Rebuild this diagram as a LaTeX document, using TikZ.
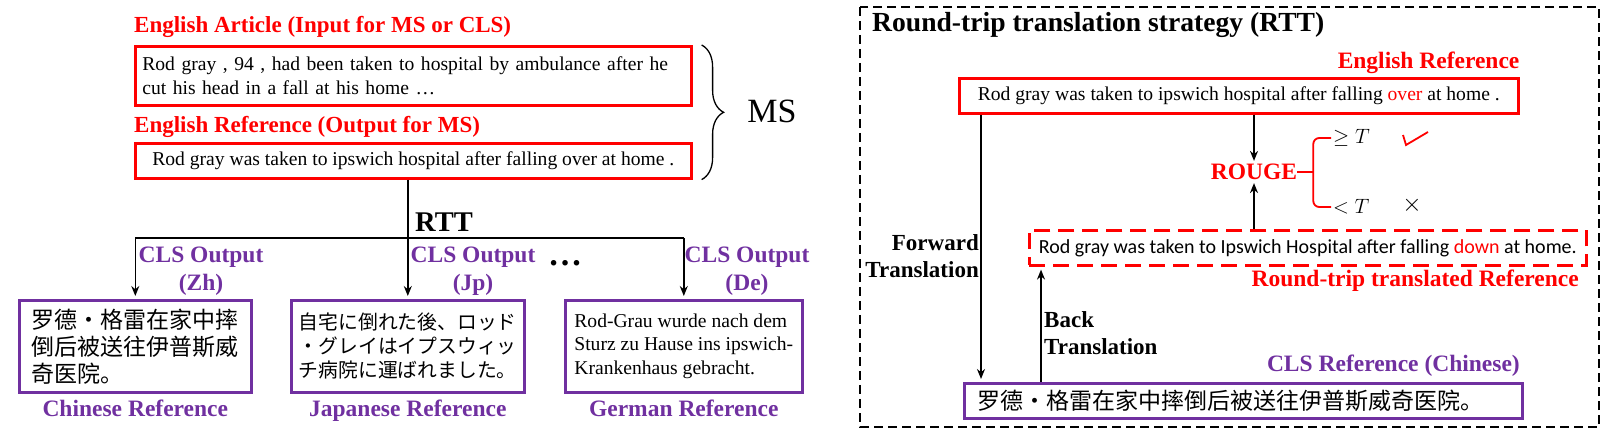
\documentclass[tikz,border=0pt]{standalone}
\usepackage{fontspec}
\setmainfont{Liberation Serif}
\newfontfamily\zhfont{Noto Sans CJK SC}
\newfontfamily\jpfont{Noto Sans CJK JP}
\newfontfamily\calfont{Carlito}
\usepackage{tikz}
\usetikzlibrary{arrows.meta,positioning,calc,decorations.pathreplacing}
\usepackage{xcolor}
\definecolor{msred}{RGB}{255,0,0}
\definecolor{clspurple}{RGB}{112,48,160}
\newcommand{\setfs}[2]{\fontsize{#1}{#2}\selectfont}
\tikzstyle{arrow} = [line width=1.5pt,->,>={Stealth[length=10pt,width=8pt]},shorten >=3pt]
\tikzstyle{link} = [line width=1.5pt]
\tikzstyle{redbox} = [draw=msred, line width=2.6pt, inner xsep=7pt, inner ysep=2pt, font=\setfs{19.6}{24}]
\tikzstyle{purplebox} = [draw=clspurple, line width=2.6pt, inner sep=5pt, minimum height=92pt]
\tikzstyle{redlabel} = [text=msred, font=\bfseries\setfs{23.5}{28}, inner sep=0pt]
\tikzstyle{purplelabel} = [text=clspurple, font=\bfseries\setfs{23.5}{28}, inner sep=0pt, align=center]
\tikzstyle{blacklabel} = [font=\bfseries\setfs{23}{27}, inner sep=0pt]

\begin{document}
\begin{tikzpicture}[x=1pt,y=-1pt]
\useasboundingbox (0,0) rectangle (1614,435);

% MS input and output
\node[redlabel, font=\bfseries\setfs{23}{28}, anchor=west] (artlabel) at (134,27) {English Article (Input for MS or CLS)};
\node[redbox, anchor=north west, minimum width=556pt, minimum height=59pt, text width=542pt, align=left] (article) at (134,45) {Rod gray , 94 , had been taken to hospital by ambulance after he\\cut his head in a fall at his home \ldots};
\node[redlabel, font=\bfseries\setfs{23}{28}, anchor=west] (reflabel) at (134,127) {English Reference (Output for MS)};
\node[redbox, anchor=north west, minimum width=556pt, minimum height=35pt] (msref) at (134,142) {Rod gray was taken to ipswich hospital after falling over at home .};

% MS brace
\draw[decorate, decoration={brace, amplitude=22pt}, line width=1.3pt] ($(article.north east)+(9pt,0)$) -- ($(msref.south east)+(9pt,0)$);
\node[font=\setfs{34}{40}] (ms) at (772,111) {MS};

% CLS references
\node[purplebox, anchor=north west, minimum width=232pt, align=left, font=\zhfont\setfs{23}{27}] (zhbox) at (18,299) {罗德·格雷在家中摔\\倒后被送往伊普斯威\\奇医院。};
\node[purplebox, anchor=north west, minimum width=233pt, align=left, font=\jpfont\setfs{19.8}{24}] (jpbox) at (290,299) {自宅に倒れた後、ロッド\\・グレイはイプスウィッ\\チ病院に運ばれました。};
\node[purplebox, anchor=north west, minimum width=237pt, align=left, font=\setfs{19.6}{23.5}] (debox) at (564,299) {Rod-Grau wurde nach dem\\Sturz zu Hause ins ipswich-\\Krankenhaus gebracht.};

\node[purplelabel, below=6pt of zhbox] (zhname) {Chinese Reference};
\node[purplelabel, below=6pt of jpbox] (jpname) {Japanese Reference};
\node[purplelabel, below=6pt of debox] (dename) {German Reference};

% RTT split
\coordinate (rttsplit) at (407,238);
\draw[arrow] (jpbox.north |- msref.south) -- (jpbox.north);
\draw[link] (rttsplit -| zhbox.north) -- (rttsplit -| debox.north);
\draw[arrow] (rttsplit -| zhbox.north) -- (zhbox.north);
\draw[arrow] (rttsplit -| debox.north) -- (debox.north);
\node[font=\bfseries\setfs{28.5}{30}, anchor=west, inner sep=0pt] (rttlabel) at (415,222) {RTT};

\node[purplelabel] (zhout) at (201,271) {CLS Output\\(Zh)};
\node[purplelabel] (jpout) at (473,271) {CLS Output\\(Jp)};
\node[purplelabel] (deout) at (747,271) {CLS Output\\(De)};
\node[font=\bfseries\setfs{34}{34}, inner sep=0pt] (dots) at (565,263) {\ldots};

% Round-trip translation strategy
\draw[dash pattern=on 9pt off 5pt, line width=2pt] (860,7) rectangle (1599,427);
\node[font=\bfseries\setfs{27.6}{30}, anchor=west, inner sep=0pt] (rtttitle) at (872,25) {Round-trip translation strategy (RTT)};

\node[redbox, anchor=north west, minimum width=559pt, minimum height=35pt] (enref) at (958,77) {Rod gray was taken to ipswich hospital after falling \textcolor{msred}{over} at home .};
\node[redlabel, anchor=south east] (enlabel) at ($(enref.north east)+(0,3pt)$) {English Reference};

\node[redlabel] (rouge) at (1254,172) {ROUGE};
\node[draw=msred, dash pattern=on 16pt off 8pt, line width=2.6pt, anchor=north west, minimum width=557pt, minimum height=35pt, inner sep=2pt, font=\calfont\setfs{20}{24}] (rtbox) at (1028,229) {Rod gray was taken to Ipswich Hospital after falling \textcolor{msred}{down} at home.};
\node[redlabel, anchor=east] (rtlabel) at (1579,281) {Round-trip translated Reference};
\draw[arrow] (rouge.north |- enref.south) -- (rouge.north);
\draw[arrow] (rouge.south |- rtbox.north) -- (rouge.south);

% ROUGE threshold
\node[anchor=west, font=\setfs{22}{24}, inner sep=0pt] (geq) at (1333,138) {$\geq T$};
\node[anchor=west, font=\setfs{22}{24}, inner sep=0pt] (lt) at (1333,207) {$< T$};
\coordinate (bmid) at ($(rouge.east)+(16pt,0)$);
\draw[msred, line width=1.8pt, rounded corners=6pt] ($(geq.west)+(-2pt,0)$) -| (bmid) |- ($(lt.west)+(-2pt,0)$);
\draw[msred, line width=1.8pt] (rouge.east) -- (bmid);
\draw[msred, line width=1.8pt] (1403,135) -- (1406,145) -- (1428,132);
\node[font=\setfs{24}{24}, inner sep=0pt] (cross) at (1412,205) {$\times$};

% Chinese reference and translations
\node[purplebox, anchor=north west, minimum width=558pt, minimum height=35pt, text width=532pt, inner xsep=13pt, inner ysep=2pt, align=left, font=\zhfont\setfs{23}{27}] (clsbox) at (963,382) {罗德·格雷在家中摔倒后被送往伊普斯威奇医院。};
\node[purplelabel, anchor=east] (clslabel) at (1520,366) {CLS Reference (Chinese)};

\coordinate (fwdtop) at ($(enref.south west)+(23pt,0)$);
\draw[arrow] (fwdtop) -- (fwdtop |- clsbox.north);
\node[blacklabel, align=right, anchor=east] (fwdlabel) at (979,256) {Forward\\Translation};

\coordinate (backtop) at ($(rtbox.south west)+(13pt,0)$);
\draw[arrow] (backtop |- clsbox.north) -- (backtop);
\node[blacklabel, align=left, anchor=west] (backlabel) at (1044,333) {Back\\Translation};
\end{tikzpicture}
\end{document}
